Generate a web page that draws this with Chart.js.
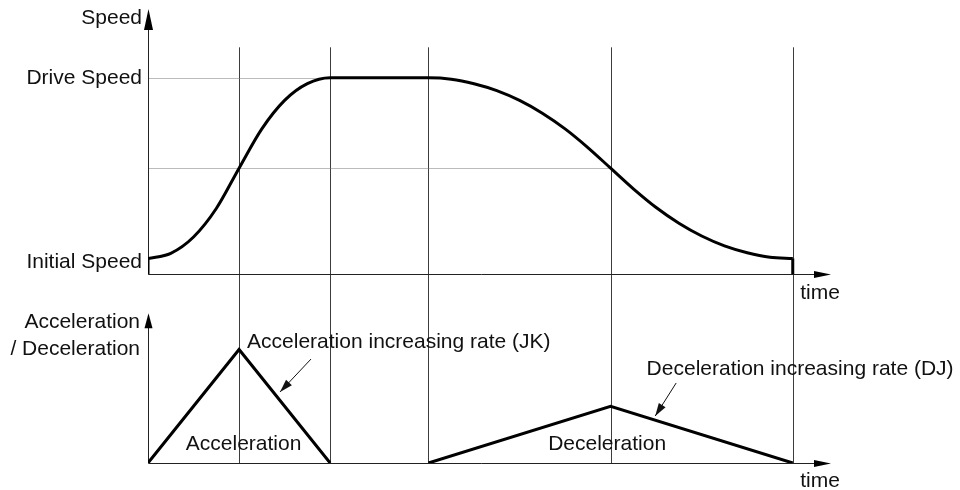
<!DOCTYPE html>
<html>
<head>
<meta charset="utf-8">
<script src="https://cdn.jsdelivr.net/npm/chart.js@4"></script>
<style>
  html, body { margin: 0; padding: 0; background: #fff; }
  #wrap { width: 960px; height: 490px; }
</style>
</head>
<body>
<div id="wrap"><canvas id="c" width="960" height="490"></canvas></div>
<script>
// time points: start, accel peak, accel end, decel start, decel peak, stop
const timeMarks = [0, 1, 2, 3.08, 5.08, 7.08];

// S-curve speed profile
const speedTime = [0, 0.25, 0.5, 0.75, 1, 1.25, 1.5, 1.75, 2,
  3.08, 3.33, 3.58, 3.83, 4.08, 4.33, 4.58, 4.83, 5.08, 5.33, 5.58, 5.83, 6.08, 6.33, 6.58, 6.83, 7.08];
const speedValue = [8, 10.7, 19, 33.5, 54, 74, 88.5, 97, 100,
  100, 99.3, 97, 93.5, 88.5, 82, 74, 64.5, 54, 43.5, 34, 26, 19.5, 14.5, 11, 8.7, 8];
const initialSpeed = 8;
const driveSpeed = 100;
const midSpeed = 54;

// acceleration / deceleration triangles
const accTime  = [0, 1, 2];
const accValue = [0, 100, 0];
const decTime  = [3.08, 5.08, 7.08];
const decValue = [0, 50, 0];

const speedLabels = ['Speed', 'Drive Speed', 'Initial Speed'];
const accLabels = ['Acceleration', '/ Deceleration'];
const phaseLabels = ['Acceleration', 'Deceleration'];
const rateLabels = ['Acceleration increasing rate (JK)', 'Deceleration increasing rate (DJ)'];
const timeLabel = 'time';

const FONT = '21px "Liberation Sans", Arial, sans-serif';
const pts = (xs, ys) => xs.map((x, i) => ({x, y: ys[i]}));

function line(ctx, x1, y1, x2, y2) {
  ctx.beginPath();
  ctx.moveTo(x1, y1);
  ctx.lineTo(x2, y2);
  ctx.stroke();
}

// filled arrow head with tip at (tx, ty) pointing along the direction from (fx, fy)
function head(ctx, fx, fy, tx, ty, len, half) {
  const a = Math.atan2(ty - fy, tx - fx);
  const bx = tx - len * Math.cos(a), by = ty - len * Math.sin(a);
  const nx = -Math.sin(a) * half, ny = Math.cos(a) * half;
  ctx.beginPath();
  ctx.moveTo(tx, ty);
  ctx.lineTo(bx + nx, by + ny);
  ctx.lineTo(bx - nx, by - ny);
  ctx.closePath();
  ctx.fill();
}

const diagram = {
  id: 'diagram',
  beforeDatasetsDraw(chart) {
    const {ctx, chartArea} = chart;
    const x = chart.scales.x, ys = chart.scales.ys, ya = chart.scales.ya;
    const x0 = Math.round(x.getPixelForValue(timeMarks[0])) + 0.5;
    ctx.save();

    // vertical phase guides through both plots
    ctx.strokeStyle = '#3c3c3c';
    ctx.lineWidth = 1;
    const gTop = ys.getPixelForValue(115.5), gBot = ya.getPixelForValue(0);
    timeMarks.slice(1).forEach(t => {
      const px = Math.round(x.getPixelForValue(t)) + 0.5;
      line(ctx, px, gTop, px, gBot);
    });

    // dotted reference speeds
    ctx.strokeStyle = '#777';
    ctx.setLineDash([1, 1]);
    let py = Math.round(ys.getPixelForValue(driveSpeed)) + 0.5;
    line(ctx, x0, py, x.getPixelForValue(timeMarks[2]), py);
    py = Math.round(ys.getPixelForValue(midSpeed)) + 0.5;
    line(ctx, x0, py, x.getPixelForValue(timeMarks[4]), py);
    ctx.setLineDash([]);

    // axes with arrow heads
    ctx.strokeStyle = '#222';
    ctx.fillStyle = '#000';
    const right = chartArea.right;
    const sy0 = Math.round(ys.getPixelForValue(0)) + 0.5;
    const ay0 = Math.round(ya.getPixelForValue(0)) + 0.5;
    const sTip = ys.getPixelForValue(ys.max);
    const aTip = ya.getPixelForValue(132);

    line(ctx, x0, sy0, x0, sTip + 20);
    head(ctx, x0, sy0, x0, sTip, 21, 4.5);
    line(ctx, x0, sy0, right - 16, sy0);
    head(ctx, x0, sy0, right, sy0, 17, 3.5);

    line(ctx, x0, ay0, x0, aTip + 14);
    head(ctx, x0, ay0, x0, aTip, 15, 4);
    line(ctx, x0, ay0, right - 16, ay0);
    head(ctx, x0, ay0, right, ay0, 17, 3.5);
    ctx.restore();
  },
  afterDatasetsDraw(chart) {
    const {ctx, chartArea} = chart;
    const x = chart.scales.x, ys = chart.scales.ys, ya = chart.scales.ya;
    const lx = x.getPixelForValue(timeMarks[0]);
    ctx.save();
    ctx.font = FONT;
    ctx.fillStyle = '#111';
    ctx.textBaseline = 'alphabetic';

    // left-hand axis labels
    ctx.textAlign = 'right';
    ctx.fillText(speedLabels[0], lx - 6, chartArea.top + 15);
    ctx.fillText(speedLabels[1], lx - 6, ys.getPixelForValue(driveSpeed) + 6);
    ctx.fillText(speedLabels[2], lx - 6, ys.getPixelForValue(initialSpeed) + 9.5);
    const aTip = ya.getPixelForValue(132);
    ctx.fillText(accLabels[0], lx - 8, aTip + 15);
    ctx.fillText(accLabels[1], lx - 8, aTip + 42);

    // time labels under the arrows
    ctx.textAlign = 'center';
    ctx.fillText(timeLabel, chartArea.right - 11, ys.getPixelForValue(0) + 25);
    ctx.fillText(timeLabel, chartArea.right - 11, ya.getPixelForValue(0) + 24);

    // phase names inside the triangles
    ctx.fillText(phaseLabels[0], x.getPixelForValue(timeMarks[1]) + 4.5, ya.getPixelForValue(0) - 13);
    ctx.fillText(phaseLabels[1], x.getPixelForValue(timeMarks[4]) - 3.5, ya.getPixelForValue(0) - 13.5);

    // jerk annotations with pointers
    ctx.textAlign = 'left';
    ctx.fillText(rateLabels[0], x.getPixelForValue(timeMarks[1]) + 8, ya.getPixelForValue(accValue[1]) - 1.5);
    ctx.fillText(rateLabels[1], x.getPixelForValue(timeMarks[4]) + 36, ya.getPixelForValue(decValue[1]) - 31);

    ctx.strokeStyle = '#111';
    ctx.fillStyle = '#111';
    ctx.lineWidth = 1;
    [[1.79, 91.6, 1.45, 62.6], [5.80, 70.5, 5.57, 41.4]].forEach(([t1, v1, t2, v2]) => {
      const fx = x.getPixelForValue(t1), fy = ya.getPixelForValue(v1);
      const tx = x.getPixelForValue(t2), ty = ya.getPixelForValue(v2);
      line(ctx, fx, fy, tx, ty);
      head(ctx, fx, fy, tx, ty, 13, 4);
    });
    ctx.restore();
  }
};

const thick = {
  borderColor: '#000',
  borderWidth: 3,
  pointRadius: 0,
  fill: false,
  borderJoinStyle: 'miter',
  borderCapStyle: 'butt'
};

new Chart(document.getElementById('c'), {
  type: 'line',
  data: {
    datasets: [
      Object.assign({label: 'Speed', data: pts(speedTime, speedValue), yAxisID: 'ys',
        tension: 0.4, cubicInterpolationMode: 'monotone'}, thick),
      Object.assign({label: 'start', data: pts([timeMarks[0], timeMarks[0]], [0, initialSpeed]), yAxisID: 'ys', tension: 0}, thick),
      Object.assign({label: 'stop', data: pts([timeMarks[5], timeMarks[5]], [initialSpeed, 0]), yAxisID: 'ys', tension: 0}, thick),
      Object.assign({label: 'Acceleration', data: pts(accTime, accValue), yAxisID: 'ya', tension: 0}, thick),
      Object.assign({label: 'Deceleration', data: pts(decTime, decValue), yAxisID: 'ya', tension: 0}, thick)
    ]
  },
  options: {
    responsive: false,
    animation: false,
    devicePixelRatio: 1,
    layout: {padding: {left: 148, right: 129, top: 9, bottom: 27}},
    scales: {
      x: {type: 'linear', min: 0, max: 7.5, display: false},
      ys: {type: 'linear', min: -96, max: 135, display: false},
      ya: {type: 'linear', min: 0, max: 400, display: false}
    },
    plugins: {legend: {display: false}, tooltip: {enabled: false}}
  },
  plugins: [diagram]
});
</script>
</body>
</html>
